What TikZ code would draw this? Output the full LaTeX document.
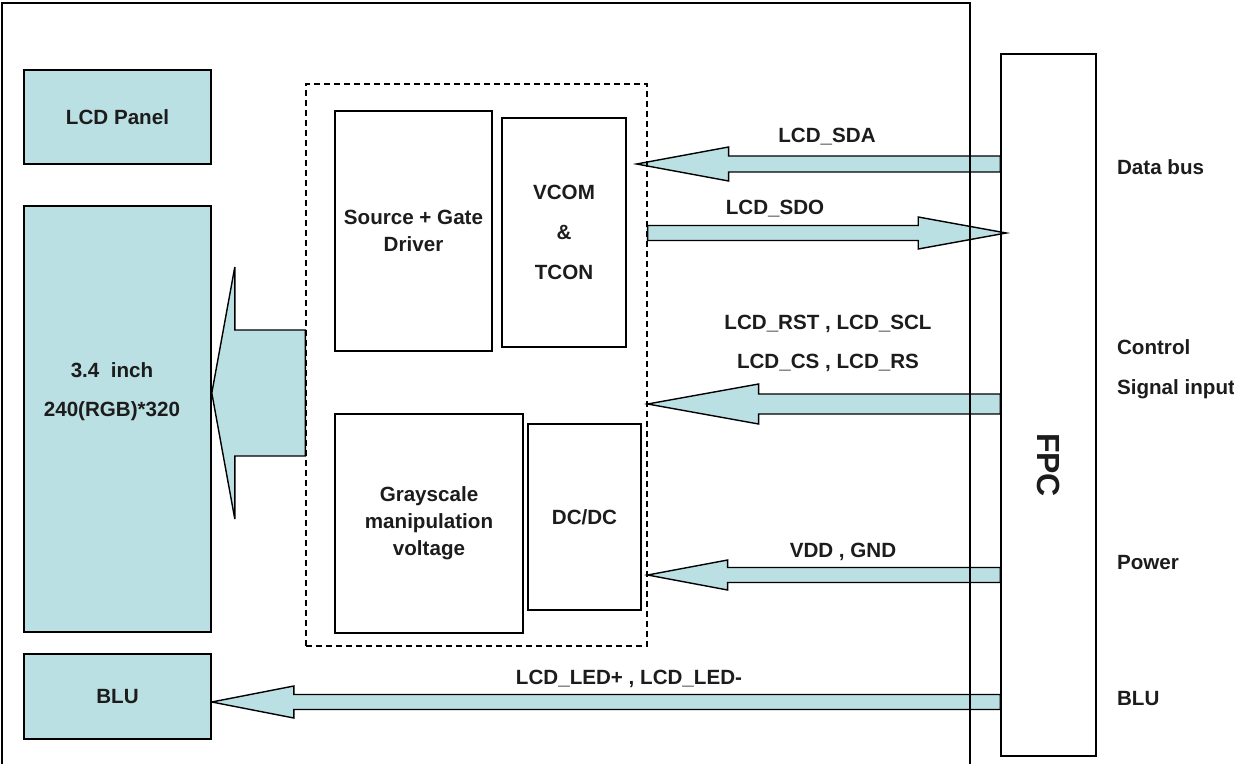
\documentclass[tikz,border=0pt]{standalone}
\usepackage{fontspec}
\setmainfont{Liberation Sans}
\usepackage{tikz}
\usetikzlibrary{calc, backgrounds}
\definecolor{panelblue}{RGB}{187, 224, 228}
\definecolor{inkgray}{RGB}{28, 28, 28}

% tail, tip, half shaft, half head, head length (signed)
\newcommand{\blockarrow}[5]{%
    \draw[fatarrow] ($(#1)+(0,#3)$) -- ($(#2)+(#5,#3)$) -- ($(#2)+(#5,#4)$) -- (#2)
        -- ($(#2)+(#5,-#4)$) -- ($(#2)+(#5,-#3)$) -- ($(#1)+(0,-#3)$) -- cycle;}

\begin{document}
\begin{tikzpicture}[
    x=0.5pt, y=-0.5pt,
    font=\bfseries\fontsize{10.3}{13.5}\selectfont,
    text=inkgray,
    block/.style={draw=black, line width=0.8pt, inner sep=0pt, align=center},
    filled/.style={block, fill=panelblue},
    dashbox/.style={draw=black, line width=0.6pt, dash pattern=on 3pt off 2pt, inner sep=0pt},
    fatarrow/.style={draw=black, line width=0.7pt, fill=panelblue, line join=miter},
    frame/.style={draw=black, line width=0.8pt},
    sig/.style={anchor=base},
    side/.style={anchor=base west}
]
    \useasboundingbox (0,0) rectangle (1234,764);

    % left column
    \node[filled, minimum width=93.5pt, minimum height=47pt] (panel) at (117.5,117) {LCD Panel};
    \node[filled, minimum width=93.5pt, minimum height=213pt] (lcd) at (117.5,419) {};
    \node[align=center, inner sep=0pt] (lcdtext) at (112,392) {3.4\ \ inch\\[6pt]240(RGB)*320};
    \node[filled, minimum width=93.5pt, minimum height=42.5pt] (blu) at (117.5,696.5) {BLU};

    % driver IC
    \node[dashbox, minimum width=170.5pt, minimum height=281pt] (dash) at (476.5,365) {};
    \node[block, minimum width=78.5pt, minimum height=120pt] (src) at (413.5,231) {Source + Gate\\Driver};
    \node[block, minimum width=62pt, minimum height=114.5pt] (vcom) at (564,232.5) {VCOM\\[6.5pt]\&\\[6.5pt]TCON};
    \node[block, minimum width=94pt, minimum height=109.5pt] (gray) at (429,523.5) {Grayscale\\manipulation\\voltage};
    \node[block, minimum width=56.5pt, minimum height=93pt] (dcdc) at (584.5,517) {DC/DC};

    % connector
    \node[block, minimum width=47.5pt, minimum height=351pt] (fpc) at (1048.5,405) {};
    \node[rotate=-90, inner sep=0pt, font=\bfseries\fontsize{16}{19}\selectfont] (fpctext) at (1048.5,465) {FPC};

    % arrow ends
    \coordinate (sdaR) at (fpc.west |- 0,164);
    \coordinate (sdaL) at ($(dash.east |- 0,164)+(-11,0)$);
    \coordinate (sdoL) at (dash.east |- 0,233);
    \coordinate (sdoR) at ($(fpc.west |- 0,233)+(6,0)$);
    \coordinate (ctlR) at (fpc.west |- 0,404);
    \coordinate (ctlL) at (dash.east |- 0,404);
    \coordinate (pwrR) at (fpc.west |- 0,575);
    \coordinate (pwrL) at (dash.east |- 0,575);
    \coordinate (ledR) at (fpc.west |- 0,702);
    \coordinate (ledL) at (blu.east |- 0,702);
    \coordinate (drvR) at (dash.west |- 0,393);
    \coordinate (drvL) at (lcd.east |- 0,393);

    \begin{scope}[on background layer]
        \blockarrow{sdaR}{sdaL}{8}{17}{92}
        \blockarrow{sdoL}{sdoR}{7.5}{16}{-88}
        \blockarrow{ctlR}{ctlL}{10}{20}{111}
        \blockarrow{pwrR}{pwrL}{7.5}{15}{80}
        \blockarrow{ledR}{ledL}{7.5}{16}{82}
        \blockarrow{drvR}{drvL}{63}{126}{23}
    \end{scope}

    % signal names
    \node[sig] (sdatext) at (827,143) {LCD\_SDA};
    \node[sig] (sdotext) at (775,215) {LCD\_SDO};
    \node[sig] (rsttext) at (828,329) {LCD\_RST , LCD\_SCL};
    \node[sig] (cstext) at (828,368) {LCD\_CS , LCD\_RS};
    \node[sig] (vddtext) at (843,557) {VDD , GND};
    \node[sig] (ledtext) at (629,684) {LCD\_LED+ , LCD\_LED-};

    % right side
    \node[side] (databus) at (1110,175) {Data bus};
    \node[side] (control) at (1110,354) {Control};
    \node[side] (siginput) at (1110,394) {Signal input};
    \node[side] (power) at (1110,569) {Power};
    \node[side] (blutext) at (1110,705) {BLU};

    % module outline
    \draw[frame] (2,764) |- (970,3) -- (970,764);
\end{tikzpicture}
\end{document}
